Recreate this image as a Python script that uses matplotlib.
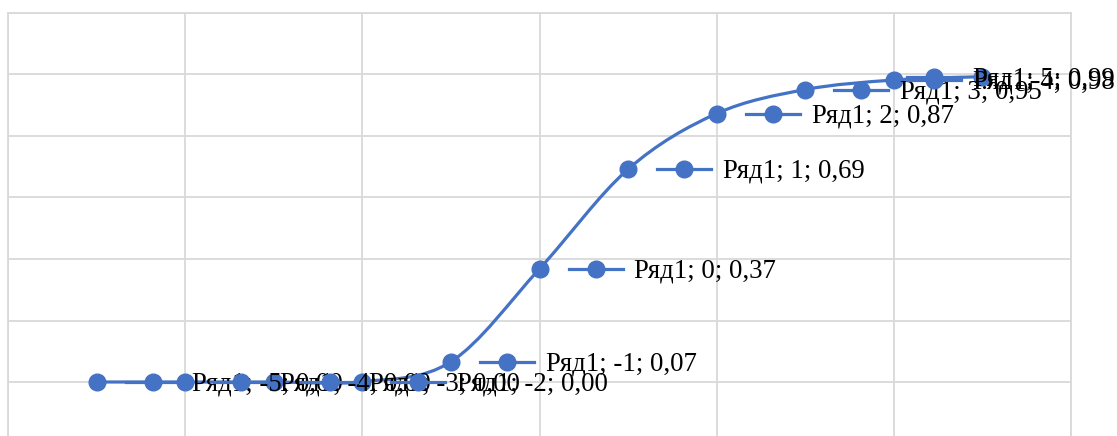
import matplotlib
matplotlib.use("Agg")
import matplotlib.pyplot as plt
from matplotlib.path import Path
from matplotlib.patches import PathPatch
from matplotlib.lines import Line2D
from matplotlib.transforms import IdentityTransform

# series "Ряд1"
x_vals = [-5, -4, -3, -2, -1, 0, 1, 2, 3, 4, 5]
y_vals = [0.0, 0.0, 0.0, 0.001, 0.066, 0.368, 0.692, 0.873, 0.951, 0.982, 0.993]
series_name = "Ряд1"

x_ticks = [-6, -4, -2, 0, 2, 4, 6]
y_ticks = [-0.2, 0.0, 0.2, 0.4, 0.6, 0.8, 1.0, 1.2]

BLUE = "#4472C4"
GRID = "#D9D9D9"
FONT = "Liberation Serif"
FS = 19.3


def smooth_path(xs, ys):
    # excel-like smoothed line: cubic bezier through every point
    n = len(xs)
    verts = [(xs[0], ys[0])]
    codes = [Path.MOVETO]
    for i in range(n - 1):
        x0, y0 = (xs[i - 1], ys[i - 1]) if i > 0 else (xs[i], ys[i])
        x3, y3 = (xs[i + 2], ys[i + 2]) if i + 2 < n else (xs[i + 1], ys[i + 1])
        c1 = (xs[i] + (xs[i + 1] - x0) / 6, ys[i] + (ys[i + 1] - y0) / 6)
        c2 = (xs[i + 1] - (x3 - xs[i]) / 6, ys[i + 1] - (y3 - ys[i]) / 6)
        verts += [c1, c2, (xs[i + 1], ys[i + 1])]
        codes += [Path.CURVE4] * 3
    return Path(verts, codes)


def main():
    fig = plt.figure(figsize=(11.17, 4.36), dpi=100)
    ax = fig.add_axes([8 / 1117, -7.5 / 436, 1063 / 1117, 430.5 / 436])
    ax.set_xlim(x_ticks[0], x_ticks[-1])
    ax.set_ylim(y_ticks[0], y_ticks[-1])
    ax.set_xticks(x_ticks)
    ax.set_yticks(y_ticks)
    ax.tick_params(length=0, labelbottom=False, labelleft=False)
    ax.grid(True, color=GRID, lw=1.3)
    for s in ax.spines.values():
        s.set_color(GRID)
        s.set_linewidth(1.3)
    ax.set_axisbelow(True)

    ax.add_patch(PathPatch(smooth_path(x_vals, y_vals), fill=False,
                           edgecolor=BLUE, lw=2.3, zorder=3))
    ax.plot(x_vals, y_vals, ls="none", marker="o", ms=12, color=BLUE,
            zorder=4, clip_on=False)

    # data labels with legend key, shifted left if they run off the chart
    labels = []
    for x, y in zip(x_vals, y_vals):
        txt = f"{series_name}; {x}; {y:.2f}".replace(".", ",")
        ann = ax.annotate(txt, (x, y), xytext=(95, -2), textcoords="offset pixels",
                          ha="left", va="center", fontsize=FS, family=FONT,
                          color="black", zorder=6, annotation_clip=False)
        labels.append(ann)

    fig.canvas.draw()
    r = fig.canvas.get_renderer()
    W = fig.bbox.width
    for ann, x, y in zip(labels, x_vals, y_vals):
        bb = ann.get_window_extent(r)
        over = bb.x1 - (W - 2)
        if over > 0:
            ann.xyann = (95 - over, -2)
            left = bb.x0 - over
        else:
            left = bb.x0
        py = ax.transData.transform((x, y))[1]
        kx = left - 39
        fig.add_artist(Line2D([kx - 27, kx + 27], [py, py], color=BLUE, lw=2.3,
                              transform=IdentityTransform(), zorder=5))
        fig.add_artist(Line2D([kx], [py], marker="o", ms=12, color=BLUE,
                              transform=IdentityTransform(), zorder=5))

    fig.savefig("out.png", dpi=100)


if __name__ == "__main__":
    main()
